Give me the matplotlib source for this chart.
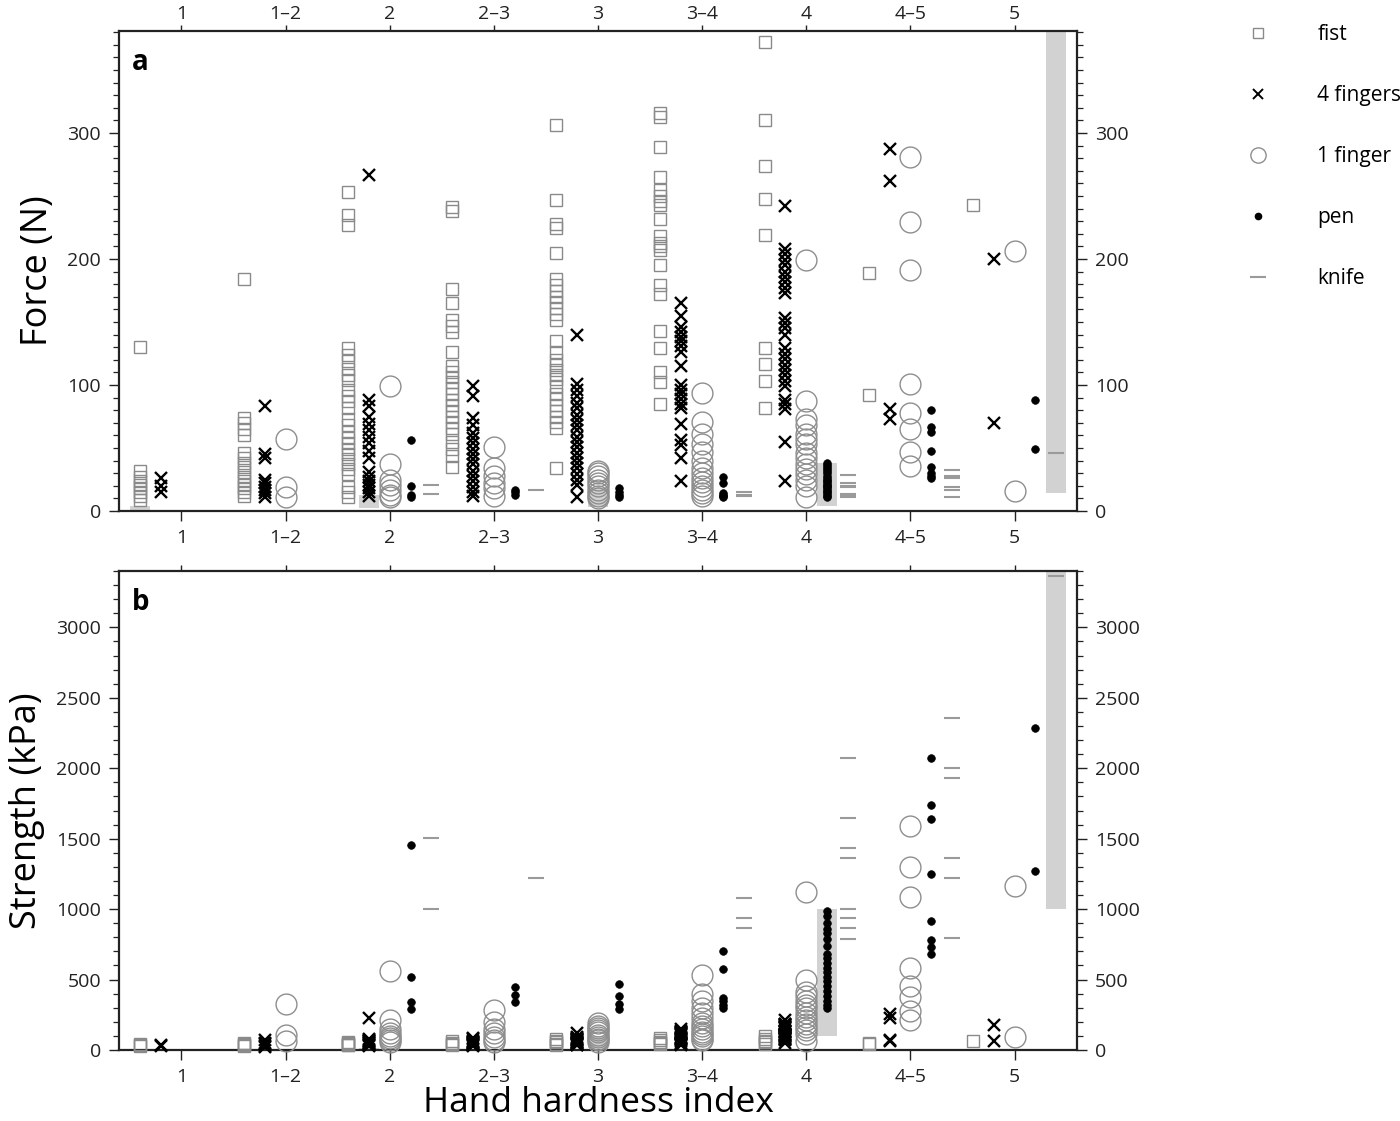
import matplotlib
matplotlib.use("Agg")
import matplotlib.pyplot as plt
from matplotlib.lines import Line2D
from matplotlib.ticker import MultipleLocator

plt.rcParams['font.family'] = ['Open Sans', 'DejaVu Sans']

categories = ["1", "1–2", "2", "2–3", "3", "3–4", "4", "4–5", "5"]
methods = ["fist", "4 fingers", "1 finger", "pen", "knife"]

# ---------------- Panel a: Force (N) ----------------
fist_force = [
    [130, 32, 27, 24, 21, 18, 15, 12, 9],
    [184, 74, 70, 65, 60, 46, 42, 38, 35, 31, 27, 24, 21, 18, 15, 12],
    [253, 235, 227, 129, 124, 119, 113, 108, 104, 96, 91, 87, 82, 73, 68, 63, 58, 54, 49, 45, 41, 37, 33, 29, 19, 15, 11],
    [241, 238, 176, 165, 152, 147, 142, 126, 115, 110, 106, 102, 98, 93, 88, 84, 79, 75, 71, 66, 61, 55, 49, 44, 35],
    [306, 247, 228, 225, 205, 184, 179, 175, 170, 166, 161, 156, 152, 135, 126, 120, 116, 112, 108, 105, 99, 93, 89, 84, 79, 75, 71, 66, 34],
    [316, 313, 289, 265, 255, 250, 246, 243, 232, 218, 213, 210, 207, 195, 179, 172, 143, 129, 110, 102, 85],
    [372, 310, 274, 248, 219, 129, 117, 103, 82],
    [189, 92],
    [243],
]
four_force = [
    [26, 20, 15],
    [83, 45, 42, 25, 22, 19, 17, 14, 11],
    [267, 88, 83, 75, 69, 64, 59, 54, 48, 42, 31, 27, 24, 21, 18, 15, 12],
    [99, 91, 74, 68, 62, 58, 54, 49, 45, 41, 37, 32, 28, 24, 19, 15, 12],
    [140, 101, 96, 91, 86, 82, 76, 72, 68, 64, 59, 55, 51, 46, 42, 38, 34, 29, 25, 21, 11],
    [165, 155, 146, 142, 138, 135, 131, 126, 115, 100, 96, 93, 89, 85, 82, 69, 56, 52, 42, 24],
    [242, 208, 204, 199, 195, 190, 186, 182, 177, 173, 153, 149, 145, 140, 129, 125, 121, 116, 112, 108, 103, 99, 88, 85, 81, 55, 24],
    [287, 262, 81, 73],
    [200, 70],
]
one_force = [
    [],
    [57, 19, 11],
    [99, 37, 25, 21, 17, 13, 11],
    [51, 34, 28, 22, 18, 12],
    [32, 30, 28, 25, 22, 20, 17, 14, 12, 10],
    [94, 71, 61, 53, 47, 40, 34, 30, 26, 23, 20, 17, 14, 12],
    [199, 87, 73, 68, 61, 57, 53, 46, 42, 37, 33, 29, 25, 20, 11],
    [281, 229, 191, 101, 78, 65, 47, 36],
    [206, 16],
]
pen_force = [
    [],
    [],
    [56, 20, 13, 11],
    [17, 15, 13],
    [18, 15, 12.5, 11],
    [27, 22, 14, 13, 12, 11],
    [38, 36.5, 34.6, 33, 32, 30, 28, 26, 25, 24, 22.5, 21, 20, 19, 17.5, 16, 15, 13.5, 12.3, 11.3],
    [80, 67, 63, 48, 35, 30, 28, 26],
    [88, 49],
]
knife_force = [
    [],
    [],
    [20.5, 13.7],
    [17],
    [],
    [14.8, 12.9, 11.8],
    [28.4, 22.6, 19.6, 18.7, 13.7, 12.9, 11.8, 10.8],
    [32.3, 27.5, 26.5, 18.7, 16.8, 10.8],
    [46],
]

# ---------------- Panel b: Strength (kPa) ----------------
fist_strength = [
    [46, 38, 30],
    [48, 40, 34, 28],
    [60, 52, 45, 38, 32],
    [62, 52, 44, 36],
    [80, 65, 55, 45, 38],
    [82, 70, 60, 50, 42],
    [96, 80, 66, 55, 45],
    [49, 40],
    [63],
]
four_strength = [
    [35, 28],
    [74, 50, 40, 30, 22],
    [230, 78, 74, 67, 62, 57, 53, 48, 43, 38, 33, 28],
    [88, 81, 66, 60, 55, 52, 48, 44, 40, 36, 33, 29],
    [120, 90, 86, 81, 77, 73, 68, 64, 60, 57, 53, 49, 45, 41, 37, 34],
    [147, 138, 130, 126, 123, 120, 117, 112, 103, 89, 86, 83, 79, 76, 73, 62, 50, 46, 38],
    [216, 186, 182, 178, 174, 170, 166, 162, 158, 154, 137, 133, 129, 125, 115, 112, 108, 104, 100, 96, 92, 88, 79, 76, 72, 49],
    [254, 230, 68, 62],
    [178, 63],
]
one_strength = [
    [],
    [325, 105, 62],
    [560, 215, 150, 120, 100, 85, 70, 60],
    [285, 200, 150, 120, 95, 70, 55],
    [190, 170, 155, 140, 125, 110, 95, 80, 68, 55],
    [531, 401, 345, 300, 266, 226, 192, 170, 147, 130, 113, 96, 79, 68],
    [1125, 500, 415, 380, 345, 320, 300, 260, 235, 210, 185, 165, 140, 113, 62],
    [1591, 1300, 1084, 579, 452, 376, 274, 216],
    [1167, 94],
]
pen_strength = [
    [],
    [],
    [1454, 520, 343, 292],
    [444, 393, 343],
    [470, 385, 330, 290],
    [705, 576, 370, 345, 320, 295],
    [990, 950, 900, 860, 830, 790, 735, 680, 650, 620, 585, 555, 520, 490, 455, 420, 385, 350, 320, 295],
    [2076, 1739, 1637, 1249, 914, 782, 731, 680],
    [2289, 1274],
]
knife_strength = [
    [],
    [],
    [1502, 1002],
    [1223],
    [],
    [1078, 939, 863],
    [2076, 1650, 1434, 1365, 1002, 939, 863, 787],
    [2360, 2005, 1934, 1363, 1223, 792],
    [3363],
]

# Grey reference ranges: (category index, method index, low, high)
range_cat = [0, 2, 4, 6, 8]
range_method = [0, 1, 2, 3, 4]
range_force_low = [1, 2.5, 3, 4, 14]
range_force_high = [4, 12.5, 18, 38, 380]
range_strength_low = [0.5, 2, 17, 100, 1000]
range_strength_high = [1, 11, 100, 1000, 3400]

# ---------------- styling ----------------
offsets = [-0.4, -0.2, 0.0, 0.2, 0.4]
styles = [
    dict(marker='s', mfc='none', mec='#8a8a8a', ms=9, mew=1.0, ls='none'),
    dict(marker='x', color='black', ms=9, mew=1.7, ls='none'),
    dict(marker='o', mfc='none', mec='#8e8e8e', ms=15, mew=1.0, ls='none'),
    dict(marker='o', mfc='black', mec='black', ms=5.5, mew=0.5, ls='none'),
    dict(marker='_', color='#9a9a9a', ms=11, mew=1.5, ls='none'),
]

W, H = 1400, 1121
fig = plt.figure(figsize=(W / 100, H / 100), dpi=100)
ax_a = fig.add_axes([119 / W, 1 - 511 / H, (1077 - 119) / W, (511 - 31) / H])
ax_b = fig.add_axes([119 / W, 1 - 1050 / H, (1077 - 119) / W, (1050 - 571) / H])

xpos = list(range(1, len(categories) + 1))


def draw(ax, series, lows, highs):
    for c, m, lo, hi in zip(range_cat, range_method, lows, highs):
        ax.bar(xpos[c] + offsets[m], hi - lo, bottom=lo, width=0.19,
               color='#d2d2d2', zorder=0, linewidth=0)
    for mi, data in enumerate(series):
        for ci, vals in enumerate(data):
            if not vals:
                continue
            ax.plot([xpos[ci] + offsets[mi]] * len(vals), vals,
                    zorder=3, clip_on=False, **styles[mi])
    ax.set_xlim(0.4, 9.6)
    ax.set_xticks(xpos)
    ax.set_xticklabels(categories)
    for s in ax.spines.values():
        s.set_linewidth(1.6)
        s.set_color('#222222')
    ax.tick_params(axis='both', which='major', direction='out', length=7,
                   width=1.0, labelsize=14, colors='#222222', pad=6)
    ax.tick_params(axis='y', which='minor', direction='out', length=4, width=0.9,
                   colors='#222222')
    ax.tick_params(axis='y', left=True, right=True, labelleft=True, labelright=True,
                   which='both')
    ax.tick_params(axis='x', top=False, bottom=True, labeltop=False)
    # short top ticks, labels close to the spine
    sec = ax.secondary_xaxis('top')
    sec.set_xticks(xpos)
    sec.set_xticklabels(categories)
    sec.spines['top'].set_visible(False)
    sec.tick_params(axis='x', direction='out', length=4, width=1.0,
                    labelsize=14, colors='#222222', pad=1.5)
    return sec


sec_a = draw(ax_a, [fist_force, four_force, one_force, pen_force, knife_force],
             range_force_low, range_force_high)
ax_a.set_ylim(0, 381)
ax_a.yaxis.set_major_locator(MultipleLocator(100))
ax_a.yaxis.set_minor_locator(MultipleLocator(10))
ax_a.set_ylabel('Force (N)', fontsize=26, labelpad=8)
ax_a.text(0.013, 0.965, 'a', transform=ax_a.transAxes, fontsize=20,
          fontweight='bold', va='top', ha='left')

sec_b = draw(ax_b, [fist_strength, four_strength, one_strength, pen_strength, knife_strength],
             range_strength_low, range_strength_high)
sec_b.tick_params(labeltop=False)
ax_b.set_ylim(0, 3400)
ax_b.yaxis.set_major_locator(MultipleLocator(500))
ax_b.yaxis.set_minor_locator(MultipleLocator(100))
ax_b.set_ylabel('Strength (kPa)', fontsize=26, labelpad=8)
ax_b.set_xlabel('Hand hardness index', fontsize=25.5, labelpad=0)
ax_b.text(0.013, 0.965, 'b', transform=ax_b.transAxes, fontsize=20,
          fontweight='bold', va='top', ha='left')

# Legend
handles = [
    Line2D([], [], marker='s', mfc='none', mec='#8a8a8a', ms=7, mew=1.0, ls='none'),
    Line2D([], [], marker='x', color='black', ms=7, mew=1.4, ls='none'),
    Line2D([], [], marker='o', mfc='none', mec='#8e8e8e', ms=11, mew=1.0, ls='none'),
    Line2D([], [], marker='o', mfc='black', mec='black', ms=4.5, ls='none'),
    Line2D([], [], marker='_', color='#9a9a9a', ms=11, mew=1.5, ls='none'),
]
fig.legend(handles, methods, loc='upper left', bbox_to_anchor=(1232 / W, 1 - 14 / H),
           frameon=False, fontsize=15, handlelength=1.5, handletextpad=2.1,
           labelspacing=1.92, borderpad=0)

fig.savefig('out.png', dpi=100)
